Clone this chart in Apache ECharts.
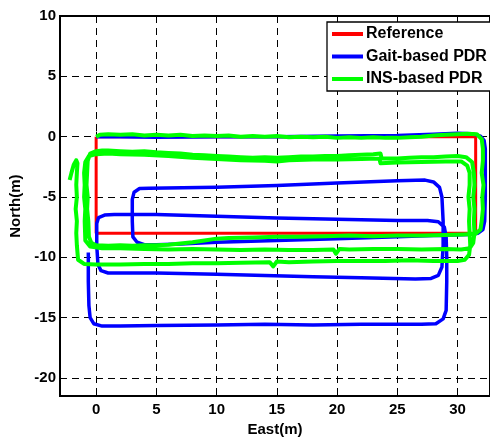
<!DOCTYPE html>
<html>
<head>
<meta charset="utf-8">
<script src="https://cdn.jsdelivr.net/npm/echarts@6/dist/echarts.min.js"></script>
<style>
  html, body { margin: 0; padding: 0; background: #fff; }
  #chart { width: 490px; height: 442px; }
</style>
</head>
<body>
<div id="chart"></div>
<script>
// Tick positions (metres)
const xTicks = [0, 5, 10, 15, 20, 25, 30];
const yTicks = [-20, -15, -10, -5, 0, 5, 10];

// Surveyed rectangular route
const referencePath = [[0, 0], [31.5, 0], [31.5, -8], [0, -8], [0, 0]];

// Track estimated from step detection + heading (three laps)
const gaitPath = [
  [0, 0], [2, 0], [5, -0.05], [10, 0], [15, 0], [20, 0.05], [25, 0.1], [28, 0.2], [30, 0.28],
  [31.2, 0.25], [31.9, 0.05], [32.2, -0.3], [32.3, -1.0],
  [32.3, -3], [32.3, -5], [32.25, -7.0], [32.1, -7.7], [31.7, -8.0], [31, -8.1],
  [28, -8.2], [25, -8.3], [20, -8.45], [15, -8.6], [10, -8.75], [7, -8.9], [5, -8.95], [4, -8.95],
  [3.4, -8.75], [3.05, -8.3],
  [3.0, -7], [3.0, -5.2], [3.15, -4.6], [3.6, -4.3], [4.4, -4.27],
  [10, -4.2], [15, -4.05], [20, -3.85], [25, -3.65], [27.3, -3.6], [28.0, -3.75], [28.5, -4.2], [28.7, -5],
  [28.8, -7], [28.8, -9], [28.7, -10.8], [28.4, -11.5], [27.8, -11.75], [26.5, -11.8],
  [22, -11.7], [18, -11.6], [14, -11.5], [10, -11.4], [5, -11.3], [1, -11.3], [0.4, -11.1], [0.15, -10.6],
  [0.05, -9], [0.05, -7.2], [0.2, -6.7], [0.7, -6.5], [1.5, -6.45],
  [5, -6.45], [10, -6.6], [15, -6.75], [20, -6.85], [25, -6.95], [27.5, -6.95], [28.4, -7.05], [28.9, -7.5], [29.05, -8.3],
  [29.1, -10], [29.1, -12], [29.05, -14.4], [28.8, -15.1], [28.2, -15.5], [27, -15.55],
  [22, -15.55], [18, -15.6], [14, -15.55], [10, -15.6], [5, -15.65], [2, -15.7], [0.5, -15.7], [-0.2, -15.5], [-0.5, -15.0],
  [-0.6, -14], [-0.65, -12], [-0.65, -9.6]
];

// Track from strapdown inertial integration with zero-velocity updates (three laps)
const insPath = [
  [0, 0], [0.3, 0.15], [1, 0.2], [2, 0.15], [3, 0.2], [4, 0.1], [5, 0.15], [6, 0.1], [7, 0.15], [8, 0.05],
  [9, 0.1], [10, 0.05], [11, 0.1], [12, 0], [13, 0.05], [14, 0], [15, 0.05], [16, -0.05], [17, 0], [18, -0.05],
  [19, 0], [20, -0.1], [21, -0.05], [22, -0.1], [23, -0.05], [24, -0.1], [25, -0.1], [26, -0.05], [27, 0],
  [28, 0.1], [29, 0.15], [30, 0.2], [30.8, 0.25], [31.6, 0.2], [32.0, -0.2], [32.1, -1],
  [32.1, -2], [32.0, -3], [32.15, -4], [32.05, -5], [32.1, -6], [32.0, -7], [31.9, -7.7], [31.5, -8.05], [30.5, -8.1],
  [29, -8.15], [27, -8.2], [25, -8.2], [23, -8.25], [21, -8.2], [19, -8.25], [17, -8.3], [15, -8.3], [13, -8.35],
  [11, -8.4], [10, -8.45], [9, -8.6], [8, -8.75], [7, -8.85], [6, -8.95], [5, -9.0], [4, -9.0], [3, -9.05],
  [2, -9.0], [1, -9.05], [0, -9.0], [-0.4, -8.8], [-0.6, -8.3],
  [-0.65, -7], [-0.75, -6], [-0.7, -5], [-0.8, -4], [-0.75, -3], [-0.7, -2], [-0.5, -1.4], [0, -1.2], [0.5, -1.15],
  [1, -1.15], [2, -1.2], [3, -1.25], [4, -1.2], [5, -1.3], [6, -1.35], [7, -1.4], [8, -1.5], [9, -1.55],
  [10, -1.6], [11, -1.65], [12, -1.7], [13, -1.75], [14, -1.7], [15, -1.75], [16, -1.7], [17, -1.65],
  [18, -1.65], [19, -1.6], [20, -1.6], [21, -1.55], [22, -1.5], [23, -1.45], [23.6, -1.4], [23.7, -1.8],
  [25, -1.8], [26, -1.75], [27, -1.7], [28, -1.7], [29, -1.65], [30, -1.6], [30.7, -1.7], [31.2, -2.1], [31.35, -3],
  [31.4, -4], [31.3, -5], [31.4, -6], [31.35, -7], [31.4, -8], [31.3, -8.8], [31.0, -9.25], [30.3, -9.35],
  [29, -9.3], [27, -9.35], [25, -9.3], [23, -9.3], [21, -9.35], [20.2, -9.3], [19.9, -9.7], [19.7, -9.35],
  [18, -9.4], [16, -9.4], [14, -9.35], [12, -9.4], [10, -9.35], [8, -9.3], [6, -9.35], [4, -9.3], [2, -9.25],
  [0.5, -9.25], [-0.5, -9.1], [-0.9, -8.6],
  [-0.95, -7], [-0.9, -6], [-1.0, -5], [-0.95, -4], [-1.0, -3], [-0.9, -2.1], [-0.6, -1.6], [0, -1.45], [1, -1.4],
  [2, -1.45], [4, -1.5], [6, -1.6], [8, -1.75], [10, -1.85], [12, -1.95], [14, -2.0], [15, -2.05], [16, -1.95],
  [18, -1.9], [20, -1.9], [22, -1.85], [23.5, -1.8], [23.6, -2.2], [25, -2.15], [27, -2.1], [29, -2.05],
  [30.3, -2.05], [30.8, -2.4], [31.0, -3],
  [31.0, -4], [30.9, -5], [31.0, -6], [30.95, -7], [31.0, -8], [31.05, -9], [30.95, -9.8], [30.6, -10.2], [30, -10.3],
  [28, -10.3], [26, -10.25], [24, -10.3], [22, -10.3], [20, -10.3], [18, -10.35], [16, -10.4], [15, -10.35],
  [14.7, -10.75], [14.4, -10.4], [12, -10.45], [10, -10.5], [8, -10.5], [6, -10.55], [4, -10.55], [2, -10.6],
  [0, -10.6], [-1.0, -10.55], [-1.5, -10.2],
  [-1.6, -9], [-1.65, -8], [-1.6, -7], [-1.7, -6], [-1.6, -5], [-1.65, -4], [-1.6, -3], [-1.55, -2.2],
  [-1.65, -1.95], [-1.85, -2.3], [-2.05, -3.0], [-2.2, -3.6]
];

const seriesNames = ['Reference', 'Gait-based PDR', 'INS-based PDR'];
const seriesColors = ['#ff0000', '#0000ff', '#00ff00'];

const font = { fontFamily: 'Liberation Sans, Arial, sans-serif', fontWeight: 'bold', color: '#000' };

const chart = echarts.init(document.getElementById('chart'), null, { renderer: 'canvas' });

chart.setOption({
  animation: false,
  backgroundColor: '#fff',
  grid: {
    left: 60, top: 16, right: -4, bottom: 43,
    show: true, borderColor: '#000', borderWidth: 2, backgroundColor: 'transparent'
  },
  xAxis: {
    type: 'value', min: -3, max: 32.69,
    name: 'East(m)', nameLocation: 'middle', nameGap: 21,
    nameTextStyle: Object.assign({ fontSize: 15 }, font),
    axisLine: { show: false },
    axisTick: { show: true, inside: true, length: 5, customValues: xTicks, lineStyle: { color: '#000', width: 1 } },
    axisLabel: Object.assign({ fontSize: 15, margin: 6, customValues: xTicks }, font),
    splitLine: { show: true, lineStyle: { color: '#000', width: 1, type: [7, 5] } }
  },
  yAxis: {
    type: 'value', min: -21.5, max: 10,
    name: 'North(m)', nameLocation: 'middle', nameGap: 30, nameRotate: 90,
    nameTextStyle: Object.assign({ fontSize: 15 }, font),
    axisLine: { show: false },
    axisTick: { show: true, inside: true, length: 5, customValues: yTicks, lineStyle: { color: '#000', width: 1 } },
    axisLabel: Object.assign({ fontSize: 15, margin: 4, customValues: yTicks }, font),
    splitLine: { show: true, lineStyle: { color: '#000', width: 1, type: [7, 5] } }
  },
  legend: {
    orient: 'vertical', left: 327, top: 22,
    padding: [3, 60, 3, 5],
    itemGap: 4.5, itemWidth: 31, itemHeight: 4, icon: 'rect',
    borderColor: '#000', borderWidth: 1.3, backgroundColor: '#fff',
    textStyle: Object.assign({ fontSize: 16, lineHeight: 18, padding: [0, 0, 0, -2] }, font),
    data: seriesNames
  },
  series: [
    { name: seriesNames[0], type: 'line', data: referencePath, showSymbol: false, color: seriesColors[0],
      lineStyle: { width: 3, color: seriesColors[0] }, z: 2 },
    { name: seriesNames[1], type: 'line', data: gaitPath, showSymbol: false, color: seriesColors[1],
      lineStyle: { width: 3.5, color: seriesColors[1], join: 'round' }, z: 3 },
    { name: seriesNames[2], type: 'line', data: insPath, showSymbol: false, color: seriesColors[2],
      lineStyle: { width: 4, color: seriesColors[2], join: 'round' }, z: 4 }
  ]
});
</script>
</body>
</html>
